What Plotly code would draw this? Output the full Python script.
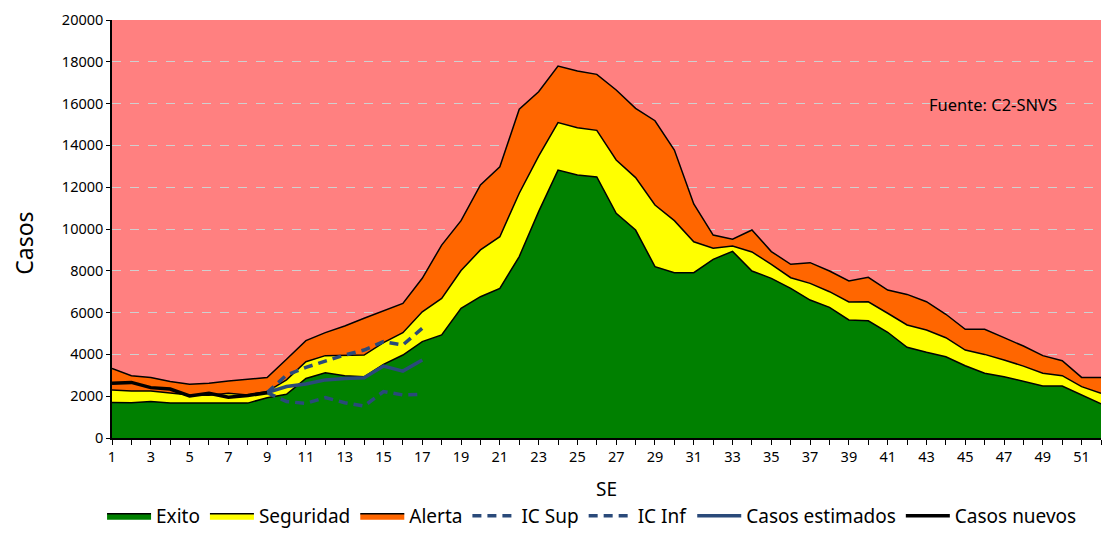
import plotly.graph_objects as go

weeks = list(range(1, 53))

exito = [1700, 1690, 1750, 1680, 1670, 1670, 1670, 1670, 1930, 2090,
         2850, 3120, 2980, 2930, 3520, 3970, 4610, 4930, 6200, 6760,
         7160, 8680, 10830, 12820, 12580, 12490, 10750, 9950, 8200, 7910,
         7910, 8550, 8930, 7990, 7640, 7160, 6600, 6250, 5650, 5610,
         5060, 4340, 4100, 3890, 3460, 3100, 2930, 2700, 2490, 2490,
         2060, 1630]

seguridad = [2300, 2250, 2250, 2170, 2060, 2050, 2140, 2060, 2220, 2780,
             3650, 3940, 3970, 3970, 4560, 5040, 6040, 6680, 8010, 9000,
             9630, 11710, 13490, 15090, 14850, 14720, 13300, 12460, 11150, 10400,
             9390, 9080, 9190, 8900, 8310, 7670, 7400, 7000, 6510, 6520,
             5970, 5410, 5170, 4800, 4210, 4000, 3730, 3440, 3100, 2980,
             2460, 2140]

alerta = [3330, 2980, 2890, 2700, 2570, 2620, 2730, 2810, 2890, 3770,
          4660, 5040, 5360, 5730, 6080, 6440, 7640, 9230, 10400, 12110,
          12980, 15730, 16570, 17800, 17560, 17400, 16650, 15770, 15180, 13780,
          11200, 9710, 9510, 9950, 8920, 8310, 8390, 7990, 7510, 7690,
          7080, 6870, 6520, 5920, 5200, 5200, 4800, 4400, 3940, 3700,
          2900, 2900]

nuevos_weeks = [1, 2, 3, 4, 5, 6, 7, 8, 9]
casos_nuevos = [2620, 2660, 2410, 2340, 2010, 2140, 1950, 2030, 2170]

est_weeks = [9, 10, 11, 12, 13, 14, 15, 16, 17]
casos_estimados = [2170, 2460, 2580, 2780, 2850, 2880, 3440, 3200, 3730]
ic_sup = [2170, 3010, 3380, 3680, 3970, 4210, 4610, 4450, 5250]
ic_inf = [2170, 1740, 1660, 1930, 1690, 1530, 2220, 2060, 2090]

x_ticks = list(range(1, 53, 2))
y_ticks = list(range(0, 20001, 2000))

BLUE = "#2A4A7A"

fig = go.Figure()

fig.add_trace(go.Scatter(x=weeks, y=alerta, name="Alerta", mode="lines",
                         fill="tozeroy", fillcolor="#FF6600",
                         line=dict(color="black", width=1.5), legendrank=3))
fig.add_trace(go.Scatter(x=weeks, y=seguridad, name="Seguridad", mode="lines",
                         fill="tozeroy", fillcolor="#FFFF00",
                         line=dict(color="black", width=1.5), legendrank=2))
fig.add_trace(go.Scatter(x=weeks, y=exito, name="Exito", mode="lines",
                         fill="tozeroy", fillcolor="#008000",
                         line=dict(color="black", width=1.5), legendrank=1))
fig.add_trace(go.Scatter(x=est_weeks, y=ic_sup, name="IC Sup", mode="lines",
                         line=dict(color=BLUE, width=3.5, dash="9px,6px"), legendrank=4))
fig.add_trace(go.Scatter(x=est_weeks, y=ic_inf, name="IC Inf", mode="lines",
                         line=dict(color=BLUE, width=3.5, dash="9px,6px"), legendrank=5))
fig.add_trace(go.Scatter(x=est_weeks, y=casos_estimados, name="Casos estimados", mode="lines",
                         line=dict(color=BLUE, width=3.5), legendrank=6))
fig.add_trace(go.Scatter(x=nuevos_weeks, y=casos_nuevos, name="Casos nuevos", mode="lines",
                         line=dict(color="black", width=3.5), legendrank=7))

fig.add_annotation(x=0.891, y=0.797, xref="paper", yref="paper",
                   xanchor="center", yanchor="middle",
                   text="Fuente: C2-SNVS", showarrow=False,
                   font=dict(size=16.5, color="black"))
fig.add_annotation(x=0.5, y=-0.122, xref="paper", yref="paper",
                   xanchor="center", yanchor="middle",
                   text="SE", showarrow=False, font=dict(size=19, color="black"))
fig.add_annotation(x=-0.089, y=0.467, xref="paper", yref="paper",
                   xanchor="center", yanchor="middle",
                   text="Casos", showarrow=False, textangle=-90,
                   font=dict(size=23, color="black"))

fig.update_layout(
    width=1107, height=527,
    margin=dict(l=104, r=14, t=12, b=97, autoexpand=False),
    paper_bgcolor="white",
    plot_bgcolor="#FF8080",
    font=dict(family="Noto Sans, Open Sans, sans-serif", color="black"),
    showlegend=True,
    legend=dict(orientation="h", xref="container", x=0.5276, xanchor="center",
                yref="container", y=-0.017, yanchor="bottom",
                font=dict(size=19), itemwidth=44, tracegroupgap=0,
                bgcolor="rgba(0,0,0,0)"),
)

fig.update_xaxes(range=[1, 52], tickvals=x_ticks, ticktext=[str(v) for v in x_ticks],
                 showline=True, linecolor="black", linewidth=1.5,
                 ticks="outside", ticklen=5, tickcolor="black",
                 minor=dict(dtick=1, tick0=1, ticks="outside", ticklen=5, tickcolor="black"),
                 showgrid=False, zeroline=False, automargin=False,
                 tickfont=dict(size=14.5))

fig.update_yaxes(range=[0, 20000], tickvals=y_ticks, ticktext=[str(v) for v in y_ticks],
                 showline=True, linecolor="black", linewidth=1.5,
                 ticks="outside", ticklen=4, tickcolor="black",
                 showgrid=True, gridcolor="#CFCFCF", griddash="dash", gridwidth=1,
                 zeroline=False, automargin=False, tickfont=dict(size=14.5))

fig.write_html("out.html")
